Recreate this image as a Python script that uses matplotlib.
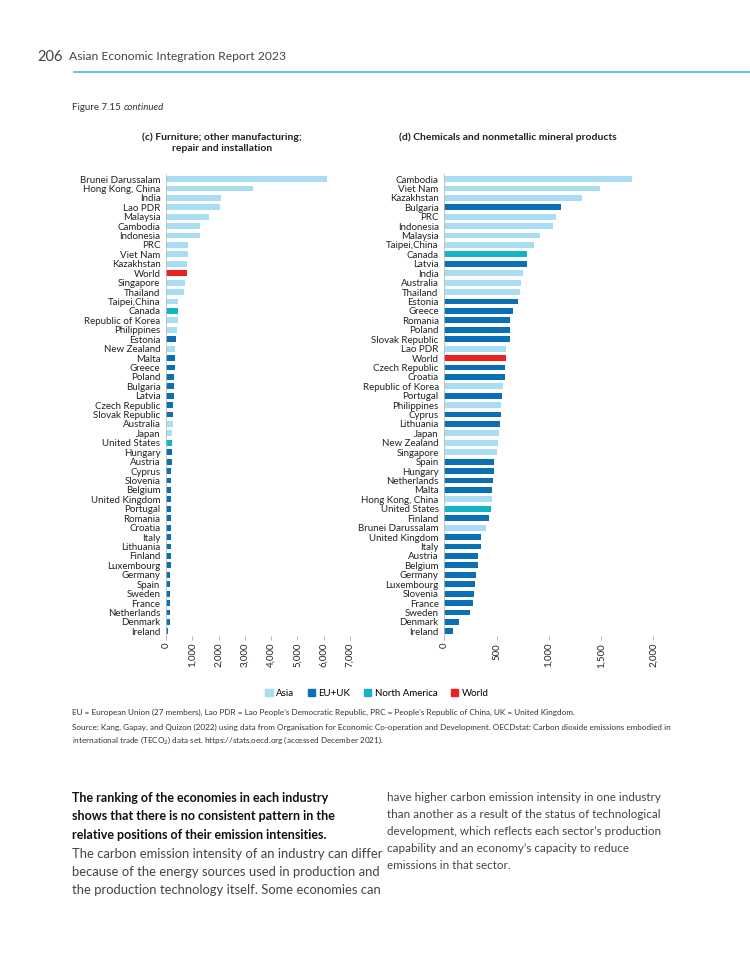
import matplotlib
matplotlib.use('Agg')
import matplotlib.pyplot as plt
from matplotlib.patches import Patch
from matplotlib.lines import Line2D

plt.rcParams['font.family'] = ['Lato', 'DejaVu Sans']

COLORS = {"A": "#aadcf4", "E": "#0b6fb3", "N": "#13b3c8", "W": "#e8231f"}

# (c) Furniture; other manufacturing; repair and installation
c_names = ["Brunei Darussalam", "Hong Kong, China", "India", "Lao PDR", "Malaysia", "Cambodia",
           "Indonesia", "PRC", "Viet Nam", "Kazakhstan", "World", "Singapore", "Thailand",
           "Taipei,China", "Canada", "Republic of Korea", "Philippines", "Estonia", "New Zealand",
           "Malta", "Greece", "Poland", "Bulgaria", "Latvia", "Czech Republic", "Slovak Republic",
           "Australia", "Japan", "United States", "Hungary", "Austria", "Cyprus", "Slovenia",
           "Belgium", "United Kingdom", "Portugal", "Romania", "Croatia", "Italy", "Lithuania",
           "Finland", "Luxembourg", "Germany", "Spain", "Sweden", "France", "Netherlands",
           "Denmark", "Ireland"]
c_values = [6120, 3310, 2100, 2050, 1635, 1290, 1285, 850, 825, 785, 800, 735, 700,
            470, 455, 445, 430, 395, 340, 355, 355, 317, 305, 290, 265, 265,
            255, 240, 230, 228, 215, 208, 206, 205, 205, 204, 203, 203, 190, 190,
            188, 178, 168, 166, 165, 164, 163, 150, 90]
c_groups = list("AAAAAAAAAAWAAANAAEAEEEEEEEAANEEEEEEEEEEEEEEEEEEEE")

# (d) Chemicals and nonmetallic mineral products
d_names = ["Cambodia", "Viet Nam", "Kazakhstan", "Bulgaria", "PRC", "Indonesia", "Malaysia",
           "Taipei,China", "Canada", "Latvia", "India", "Australia", "Thailand", "Estonia",
           "Greece", "Romania", "Poland", "Slovak Republic", "Lao PDR", "World", "Czech Republic",
           "Croatia", "Republic of Korea", "Portugal", "Philippines", "Cyprus", "Lithuania",
           "Japan", "New Zealand", "Singapore", "Spain", "Hungary", "Netherlands", "Malta",
           "Hong Kong, China", "United States", "Finland", "Brunei Darussalam", "United Kingdom",
           "Italy", "Austria", "Belgium", "Germany", "Luxembourg", "Slovenia", "France",
           "Sweden", "Denmark", "Ireland"]
d_values = [1793, 1490, 1320, 1116, 1069, 1040, 915, 858, 794, 794, 753, 734, 727, 708,
            654, 632, 625, 625, 593, 593, 584, 577, 558, 555, 542, 542, 530,
            520, 514, 500, 472, 472, 469, 459, 456, 443, 424, 402, 348,
            348, 325, 325, 303, 297, 287, 278, 242, 137, 86]
d_groups = list("AAAEAAAANEAAAEEEEEAWEEAEAEEAAAEEEEANEAEEEEEEEEEEE")

legend_labels = ["Asia", "EU+UK", "North America", "World"]

W, H = 750, 971
fig = plt.figure(figsize=(7.5, 9.71), dpi=100)


def fx(px):
    return px / W


def fy(py):
    return 1 - py / H


def draw(ax, names, values, groups, xmax, ticks):
    y = list(range(len(names)))
    ax.barh(y, values, height=0.62, color=[COLORS[g] for g in groups])
    ax.set_ylim(len(names) - 0.5, -0.5)
    ax.set_xlim(0, xmax)
    ax.set_yticks(y)
    ax.set_yticklabels(names, fontsize=7, color="#222222")
    ax.set_xticks(ticks)
    ax.set_xticklabels([f"{t:,}" for t in ticks], rotation=90, fontsize=7, color="#222222")
    for s in ["top", "right"]:
        ax.spines[s].set_visible(False)
    ax.spines["left"].set_color("#bbbbbb")
    ax.spines["left"].set_linewidth(0.6)
    ax.spines["bottom"].set_visible(False)
    ax.tick_params(axis="y", length=0, pad=4)
    ax.tick_params(axis="x", length=3, width=0.5, color="#999999", pad=2)


top, bot = 174.3, 636
ax1 = fig.add_axes([fx(166), fy(bot), fx(184), (bot - top) / H])
draw(ax1, c_names, c_values, c_groups, 7000, [0, 1000, 2000, 3000, 4000, 5000, 6000, 7000])
ax2 = fig.add_axes([fx(444.3), fy(bot), fx(209), (bot - top) / H])
draw(ax2, d_names, d_values, d_groups, 2000, [0, 500, 1000, 1500, 2000])

# header
fig.text(fx(37), fy(57), "206", fontsize=10.5, color="#444444", va="center")
fig.text(fx(69), fy(57), "Asian Economic Integration Report 2023", fontsize=8.7, color="#444444", va="center")
fig.add_artist(Line2D([fx(74), 1], [fy(72), fy(72)], color="#55c1e6", linewidth=1.3))

fig_lbl = fig.text(fx(72), fy(107), "Figure 7.15", fontsize=7, color="#333333", va="center")
renderer = fig.canvas.get_renderer()
ext = fig_lbl.get_window_extent(renderer)
fig.text((ext.x1 + 3) / W, fy(107), "continued", fontsize=7, style="italic", color="#333333", va="center")

fig.text(fx(222), fy(143), "(c) Furniture; other manufacturing;\nrepair and installation",
         fontsize=7.5, fontweight="bold", ha="center", va="center", linespacing=1.3, color="#222222")
fig.text(fx(508), fy(137), "(d) Chemicals and nonmetallic mineral products",
         fontsize=7.5, fontweight="bold", ha="center", va="center", color="#222222")

handles = [Patch(color=COLORS[k]) for k in "AENW"]
fig.legend(handles, legend_labels, loc="center", bbox_to_anchor=(fx(377), fy(693)), ncol=4,
           frameon=False, fontsize=7, handlelength=0.75, handleheight=0.75, handletextpad=0.35,
           columnspacing=1.4)

fig.text(fx(72), fy(712), "EU = European Union (27 members), Lao PDR = Lao People\u2019s Democratic Republic, "
         "PRC = People\u2019s Republic of China, UK = United Kingdom.", fontsize=5.9, color="#333333", va="center")
fig.text(fx(72), fy(735), "Source: Kang, Gapay, and Quizon (2022) using data from Organisation for Economic Co-operation "
         "and Development. OECDstat: Carbon dioxide emissions embodied in\ninternational trade (TECO$_2$) data set. "
         "https://stats.oecd.org (accessed December 2021).", fontsize=5.9, color="#333333", va="center",
         linespacing=1.45)

bold_lines = ["The ranking of the economies in each industry",
              "shows that there is no consistent pattern in the",
              "relative positions of their emission intensities."]
left_lines = ["The carbon emission intensity of an industry can differ",
              "because of the energy sources used in production and",
              "the production technology itself. Some economies can"]
right_lines = ["have higher carbon emission intensity in one industry",
               "than another as a result of the status of technological",
               "development, which reflects each sector\u2019s production",
               "capability and an economy\u2019s capacity to reduce",
               "emissions in that sector."]
for i, t in enumerate(bold_lines):
    fig.text(fx(72), fy(798 + 18.4 * i), t, fontsize=9.0, fontweight="bold", color="#111111", va="center")
for i, t in enumerate(left_lines):
    fig.text(fx(72), fy(853.5 + 18.4 * i), t, fontsize=9.4, color="#444444", va="center")
for i, t in enumerate(right_lines):
    fig.text(fx(387), fy(797 + 17.2 * i), t, fontsize=8.35, color="#444444", va="center")

fig.savefig("out.png", dpi=100)
